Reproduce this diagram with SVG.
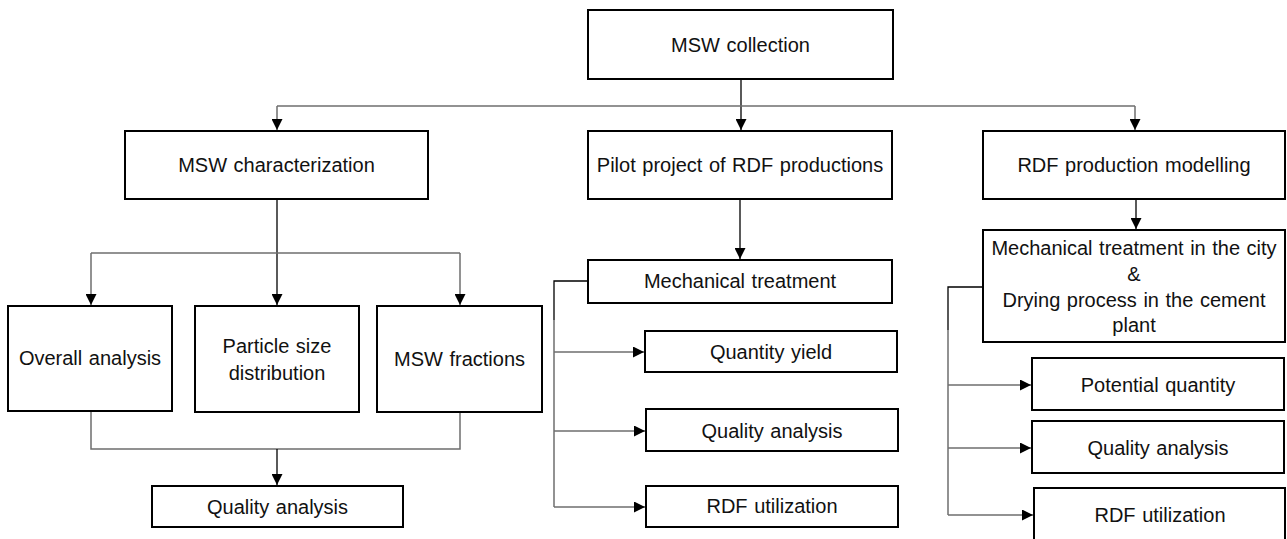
<svg xmlns="http://www.w3.org/2000/svg" width="1287" height="539" viewBox="0 0 1287 539">
<style>
.box{fill:#fff;stroke:#000;stroke-width:2}
.t{font-family:"Liberation Sans",Arial,sans-serif;font-size:20px;fill:#111;text-anchor:middle;word-spacing:1px}
.c{fill:none;stroke:#000;stroke-width:1.3}
.g{fill:none;stroke:#6e6e6e;stroke-width:1.5}
</style>
<defs>
<marker id="ah" markerUnits="userSpaceOnUse" markerWidth="11" markerHeight="11" refX="10" refY="5" orient="auto" viewBox="0 0 10 10">
<path d="M0,0 L10,5 L0,10 z" fill="#000"/>
</marker>
</defs>
<rect width="1287" height="539" fill="#fff"/>
<g id="connectors">
<path class="c" d="M741,79 V130" marker-end="url(#ah)"/>
<path class="g" d="M277,106 H1135"/>
<path class="g" d="M277,106 V130" marker-end="url(#ah)"/>
<path class="g" d="M1135,106 V130" marker-end="url(#ah)"/>
<path class="c" d="M277,199 V305" marker-end="url(#ah)"/>
<path class="g" d="M91,253 H460"/>
<path class="g" d="M91,253 V305" marker-end="url(#ah)"/>
<path class="g" d="M460,253 V305" marker-end="url(#ah)"/>
<path class="g" d="M91,411 V449 H460 V412"/>
<path class="c" d="M277,449 V485" marker-end="url(#ah)"/>
<path class="c" d="M740,199 V259" marker-end="url(#ah)"/>
<path class="c" d="M588,281 H554 V320"/>
<path class="g" d="M554,320 V507"/>
<path class="g" d="M554,352 H644" marker-end="url(#ah)"/>
<path class="g" d="M554,431 H645" marker-end="url(#ah)"/>
<path class="g" d="M554,507 H645" marker-end="url(#ah)"/>
<path class="c" d="M1136,199 V229" marker-end="url(#ah)"/>
<path class="c" d="M983,287 H948 V330"/>
<path class="g" d="M948,330 V515"/>
<path class="g" d="M948,385 H1031" marker-end="url(#ah)"/>
<path class="g" d="M948,448 H1031" marker-end="url(#ah)"/>
<path class="g" d="M948,515 H1033" marker-end="url(#ah)"/>
</g>
<g id="msw-collection"><rect class="box" x="588" y="10" width="305" height="69"/><text class="t" x="740.5" y="52">MSW collection</text></g>
<g id="msw-characterization"><rect class="box" x="125" y="131" width="303" height="68"/><text class="t" x="276.5" y="172">MSW characterization</text></g>
<g id="pilot-project"><rect class="box" x="588" y="131" width="304" height="68"/><text class="t" x="740" y="172">Pilot project of RDF productions</text></g>
<g id="rdf-modelling"><rect class="box" x="983" y="131" width="302" height="68"/><text class="t" x="1134" y="172">RDF production modelling</text></g>
<g id="overall-analysis"><rect class="box" x="8" y="306" width="164" height="105"/><text class="t" x="90" y="365">Overall analysis</text></g>
<g id="particle-size"><rect class="box" x="195" y="306" width="164" height="106"/><text class="t" x="277" y="353">Particle size</text><text class="t" x="277" y="380">distribution</text></g>
<g id="msw-fractions"><rect class="box" x="377" y="306" width="165" height="106"/><text class="t" x="459.5" y="366">MSW fractions</text></g>
<g id="quality-analysis-1"><rect class="box" x="152" y="486" width="251" height="41"/><text class="t" x="277.5" y="514">Quality analysis</text></g>
<g id="mechanical-treatment"><rect class="box" x="588" y="260" width="304" height="43"/><text class="t" x="740" y="288">Mechanical treatment</text></g>
<g id="quantity-yield"><rect class="box" x="645" y="331" width="252" height="41"/><text class="t" x="771" y="359">Quantity yield</text></g>
<g id="quality-analysis-2"><rect class="box" x="646" y="409" width="252" height="42"/><text class="t" x="772" y="438">Quality analysis</text></g>
<g id="rdf-utilization-1"><rect class="box" x="646" y="486" width="252" height="41"/><text class="t" x="772" y="513">RDF utilization</text></g>
<g id="mech-drying"><rect class="box" x="983" y="230" width="302" height="112"/><text class="t" x="1134" y="255">Mechanical treatment in the city</text><text class="t" x="1134" y="281">&amp;</text><text class="t" x="1134" y="307">Drying process in the cement</text><text class="t" x="1134" y="332">plant</text></g>
<g id="potential-quantity"><rect class="box" x="1032" y="358" width="252" height="52"/><text class="t" x="1158" y="392">Potential quantity</text></g>
<g id="quality-analysis-3"><rect class="box" x="1032" y="421" width="252" height="52"/><text class="t" x="1158" y="455">Quality analysis</text></g>
<g id="rdf-utilization-2"><rect class="box" x="1034" y="488" width="251" height="60"/><text class="t" x="1160" y="522">RDF utilization</text></g>
</svg>
